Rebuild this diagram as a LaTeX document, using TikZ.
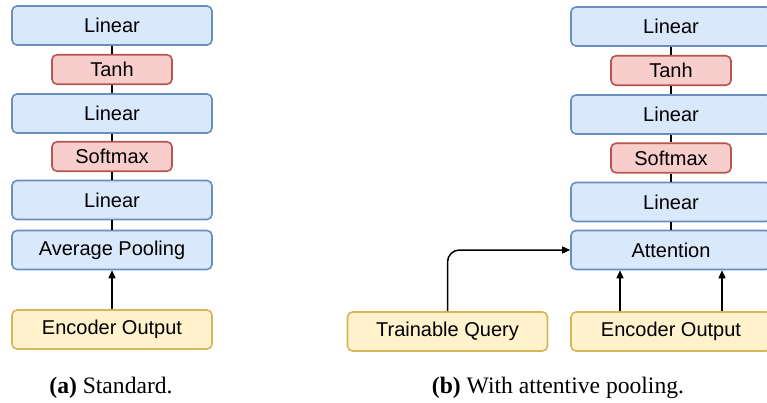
\documentclass[tikz,border=0pt]{standalone}
\usepackage{fontspec}
\setmainfont{Liberation Sans}
\newfontfamily\capfont{Liberation Serif}
\usetikzlibrary{arrows.meta}
\definecolor{bfill}{HTML}{DAE8FC}
\definecolor{bdraw}{HTML}{6C8EBF}
\definecolor{rfill}{HTML}{F8CECC}
\definecolor{rdraw}{HTML}{B85450}
\definecolor{yfill}{HTML}{FFF2CC}
\definecolor{ydraw}{HTML}{D6B656}
\tikzset{
  box/.style={rounded corners=5pt, line width=1.6pt, inner sep=0pt, minimum height=39pt,
    minimum width=200pt, font=\fontsize{20}{23}\selectfont},
  bluebox/.style={box, fill=bfill, draw=bdraw},
  redbox/.style={box, fill=rfill, draw=rdraw, minimum width=120pt, minimum height=29.5pt},
  yelbox/.style={box, fill=yfill, draw=ydraw},
  link/.style={line width=1.5pt, black},
  arr/.style={link, -{Triangle[length=8pt,width=7pt]}},
  captext/.style={font=\capfont\fontsize{23.6}{26}\selectfont, inner sep=0pt}
}
\begin{document}
\begin{tikzpicture}[x=1pt,y=-1pt]
\useasboundingbox (0,0) rectangle (767,403);
\clip (0,0) rectangle (767,403);
% left column
\node[bluebox] (lLin1) at (112,25.5) {Linear};
\node[redbox] (lTanh) at (112,69.5) {Tanh};
\node[bluebox] (lLin2) at (112,113.5) {Linear};
\node[redbox] (lSoft) at (112,156.5) {Softmax};
\node[bluebox] (lLin3) at (112,200) {Linear};
\node[bluebox] (lPool) at (112,250) {Average Pooling};
\node[yelbox] (lEnc) at (112,329.5) {Encoder Output};
\node[captext] (capA) at (111,388) {\textbf{(a)} Standard.};
\draw[link] (lLin1) -- (lTanh);
\draw[link] (lTanh) -- (lLin2);
\draw[link] (lLin2) -- (lSoft);
\draw[link] (lSoft) -- (lLin3);
\draw[link] (lLin3) -- (lPool);
\draw[arr] (lEnc) -- (lPool);
% right column
\node[bluebox] (rLin1) at (671,26.5) {Linear};
\node[redbox] (rTanh) at (671,70.5) {Tanh};
\node[bluebox] (rLin2) at (671,114.5) {Linear};
\node[redbox] (rSoft) at (671,158) {Softmax};
\node[bluebox] (rLin3) at (671,202) {Linear};
\node[bluebox] (rAtt) at (671,250) {Attention};
\node[yelbox] (rEnc) at (671,331.5) {Encoder Output};
\node[yelbox] (rQuery) at (447.5,331.5) {Trainable Query};
\node[captext] (capB) at (558,388) {\textbf{(b)} With attentive pooling.};
\draw[link] (rLin1) -- (rTanh);
\draw[link] (rTanh) -- (rLin2);
\draw[link] (rLin2) -- (rSoft);
\draw[link] (rSoft) -- (rLin3);
\draw[link] (rLin3) -- (rAtt);
\draw[arr] ([xshift=-51pt]rEnc.north) -- ([xshift=-51pt]rAtt.south);
\draw[arr] ([xshift=51pt]rEnc.north) -- ([xshift=51pt]rAtt.south);
\draw[arr, rounded corners=12pt] (rQuery.north) |- (rAtt.west);
\end{tikzpicture}
\end{document}
